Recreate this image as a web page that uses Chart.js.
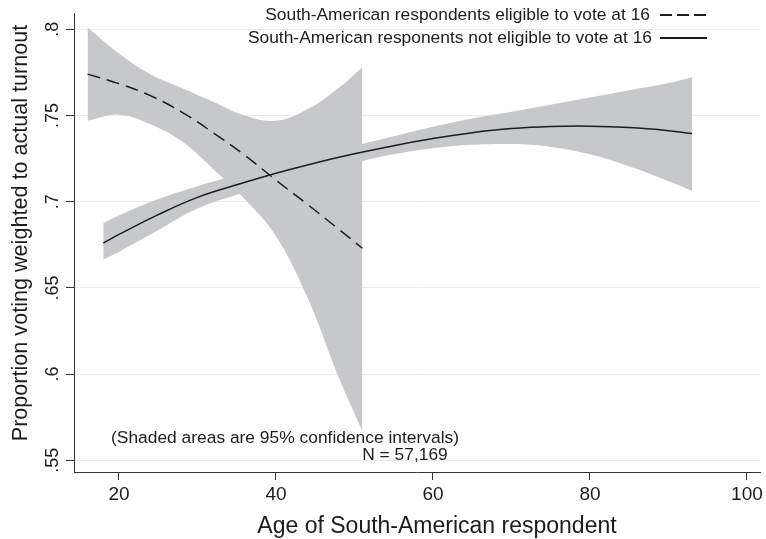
<!DOCTYPE html>
<html>
<head>
<meta charset="utf-8">
<script src="https://cdn.jsdelivr.net/npm/chart.js@4/dist/chart.umd.min.js"></script>
<style>
  html, body { margin: 0; padding: 0; background: #fff; }
  #wrap { width: 766px; height: 539px; }
</style>
</head>
<body>
<div id="wrap"><canvas id="chart" width="766" height="539"></canvas></div>
<script>
// ages and fitted values
const ageElig = [16, 20, 24, 28, 32, 36, 40, 44, 48, 51];
const eligFit = [0.774, 0.7685, 0.7615, 0.752, 0.740, 0.727, 0.7125, 0.6985, 0.684, 0.673];
const eligHi  = [0.801, 0.786, 0.774, 0.766, 0.758, 0.750, 0.747, 0.7536, 0.766, 0.778];
const eligLo  = [0.747, 0.7505, 0.745, 0.735, 0.719, 0.7015, 0.680, 0.6445, 0.598, 0.567];

const ageNot = [18, 20, 25, 30, 35, 40, 45, 50, 55, 60, 65, 70, 75, 80, 85, 90, 93];
const notFit = [0.676, 0.681, 0.6925, 0.7025, 0.7098, 0.7165, 0.7225, 0.7278, 0.7325, 0.7366, 0.740, 0.7424, 0.7436, 0.7438, 0.743, 0.7412, 0.7395];
const notHi  = [0.6876, 0.692, 0.7015, 0.709, 0.7155, 0.7215, 0.727, 0.7325, 0.738, 0.7435, 0.7483, 0.7522, 0.7563, 0.7604, 0.7646, 0.7688, 0.7722];
const notLo  = [0.6664, 0.671, 0.6835, 0.696, 0.704, 0.711, 0.717, 0.7225, 0.7275, 0.731, 0.733, 0.7334, 0.7318, 0.7275, 0.7205, 0.7118, 0.7063];

const seriesNames = [
  'South-American respondents eligible to vote at 16',
  'South-American responents not eligible to vote at 16'
];
const yTickValues = [0.55, 0.6, 0.65, 0.7, 0.75, 0.8];
const yTickLabels = ['.55', '.6', '.65', '.7', '.75', '.8'];
const xTickValues = [20, 40, 60, 80, 100];
const xTitle = 'Age of South-American respondent';
const yTitle = 'Proportion voting weighted to actual turnout';
const notes = ['(Shaded areas are 95% confidence intervals)', 'N = 57,169'];

const FONT = '"Liberation Sans", Arial, Helvetica, sans-serif';
const INK = '#1c1c1c';
const BAND = '#c7c8ca';

const pts = (xs, ys) => xs.map((x, i) => ({ x: x, y: ys[i] }));

function band(xs, ys, fill) {
  return {
    data: pts(xs, ys),
    borderWidth: 0,
    borderColor: 'rgba(0,0,0,0)',
    backgroundColor: BAND,
    pointRadius: 0,
    fill: fill,
    tension: 0.4,
    order: 5
  };
}

function text(ctx, str, x, y, size, align, rot) {
  ctx.save();
  ctx.translate(x, y);
  if (rot) ctx.rotate(rot);
  ctx.font = size + 'px ' + FONT;
  ctx.textAlign = align;
  ctx.fillText(str, 0, 0);
  ctx.restore();
}

// text drawn on top: rotated y labels, titles, legend, notes
const overlay = {
  id: 'overlay',
  afterDraw(chart) {
    const ctx = chart.ctx;
    const y = chart.scales.y;
    ctx.save();
    ctx.fillStyle = INK;
    ctx.textBaseline = 'alphabetic';
    yTickValues.forEach((v, i) => {
      text(ctx, yTickLabels[i], 58, y.getPixelForValue(v), 18, 'center', -Math.PI / 2);
    });
    text(ctx, yTitle, 27, 233, 21.6, 'center', -Math.PI / 2);
    text(ctx, xTitle, 437, 533, 23, 'center');

    // legend
    ctx.textBaseline = 'middle';
    text(ctx, seriesNames[0], 650, 15, 17.4, 'right');
    text(ctx, seriesNames[1], 652, 38, 17.4, 'right');
    ctx.strokeStyle = INK;
    ctx.lineWidth = 2;
    ctx.setLineDash([12, 5]);
    ctx.beginPath(); ctx.moveTo(660, 15); ctx.lineTo(707, 15); ctx.stroke();
    ctx.setLineDash([]);
    ctx.beginPath(); ctx.moveTo(660, 38); ctx.lineTo(707, 38); ctx.stroke();

    // notes
    text(ctx, notes[0], 285, 438, 17.4, 'center');
    text(ctx, notes[1], 405, 455, 17.4, 'center');
    ctx.restore();
  }
};

const ctx = document.getElementById('chart').getContext('2d');
new Chart(ctx, {
  type: 'line',
  data: {
    datasets: [
      {
        label: seriesNames[0],
        data: pts(ageElig, eligFit),
        borderColor: INK,
        borderWidth: 1.5,
        borderDash: [13, 7],
        pointRadius: 0,
        fill: false,
        tension: 0.4,
        order: 1
      },
      {
        label: seriesNames[1],
        data: pts(ageNot, notFit),
        borderColor: INK,
        borderWidth: 1.5,
        pointRadius: 0,
        fill: false,
        tension: 0.4,
        order: 1
      },
      band(ageElig, eligHi, '+1'),
      band(ageElig, eligLo, false),
      band(ageNot, notHi, '+1'),
      band(ageNot, notLo, false)
    ]
  },
  options: {
    responsive: false,
    animation: false,
    layout: { padding: { top: 4, right: 6, left: 0, bottom: 0 } },
    plugins: { legend: { display: false }, tooltip: { enabled: false } },
    scales: {
      x: {
        type: 'linear',
        min: 14.27,
        max: 101.66,
        afterFit: s => { s.height = 67; },
        afterBuildTicks: s => { s.ticks = xTickValues.map(v => ({ value: v })); },
        ticks: { color: INK, font: { family: FONT, size: 19 }, padding: 3, maxRotation: 0 },
        grid: { drawOnChartArea: false, drawTicks: true, tickLength: 8, tickColor: '#333' },
        border: { color: '#333', width: 1 }
      },
      y: {
        type: 'linear',
        min: 0.5432,
        max: 0.809,
        afterFit: s => { s.width = 74; },
        afterBuildTicks: s => { s.ticks = yTickValues.map(v => ({ value: v })); },
        ticks: { color: 'rgba(0,0,0,0)', font: { family: FONT, size: 18 } },
        grid: { color: '#ebebeb', lineWidth: 1, drawTicks: true, tickLength: 8, tickColor: '#333' },
        border: { color: '#333', width: 1 }
      }
    }
  },
  plugins: [overlay]
});
</script>
</body>
</html>
